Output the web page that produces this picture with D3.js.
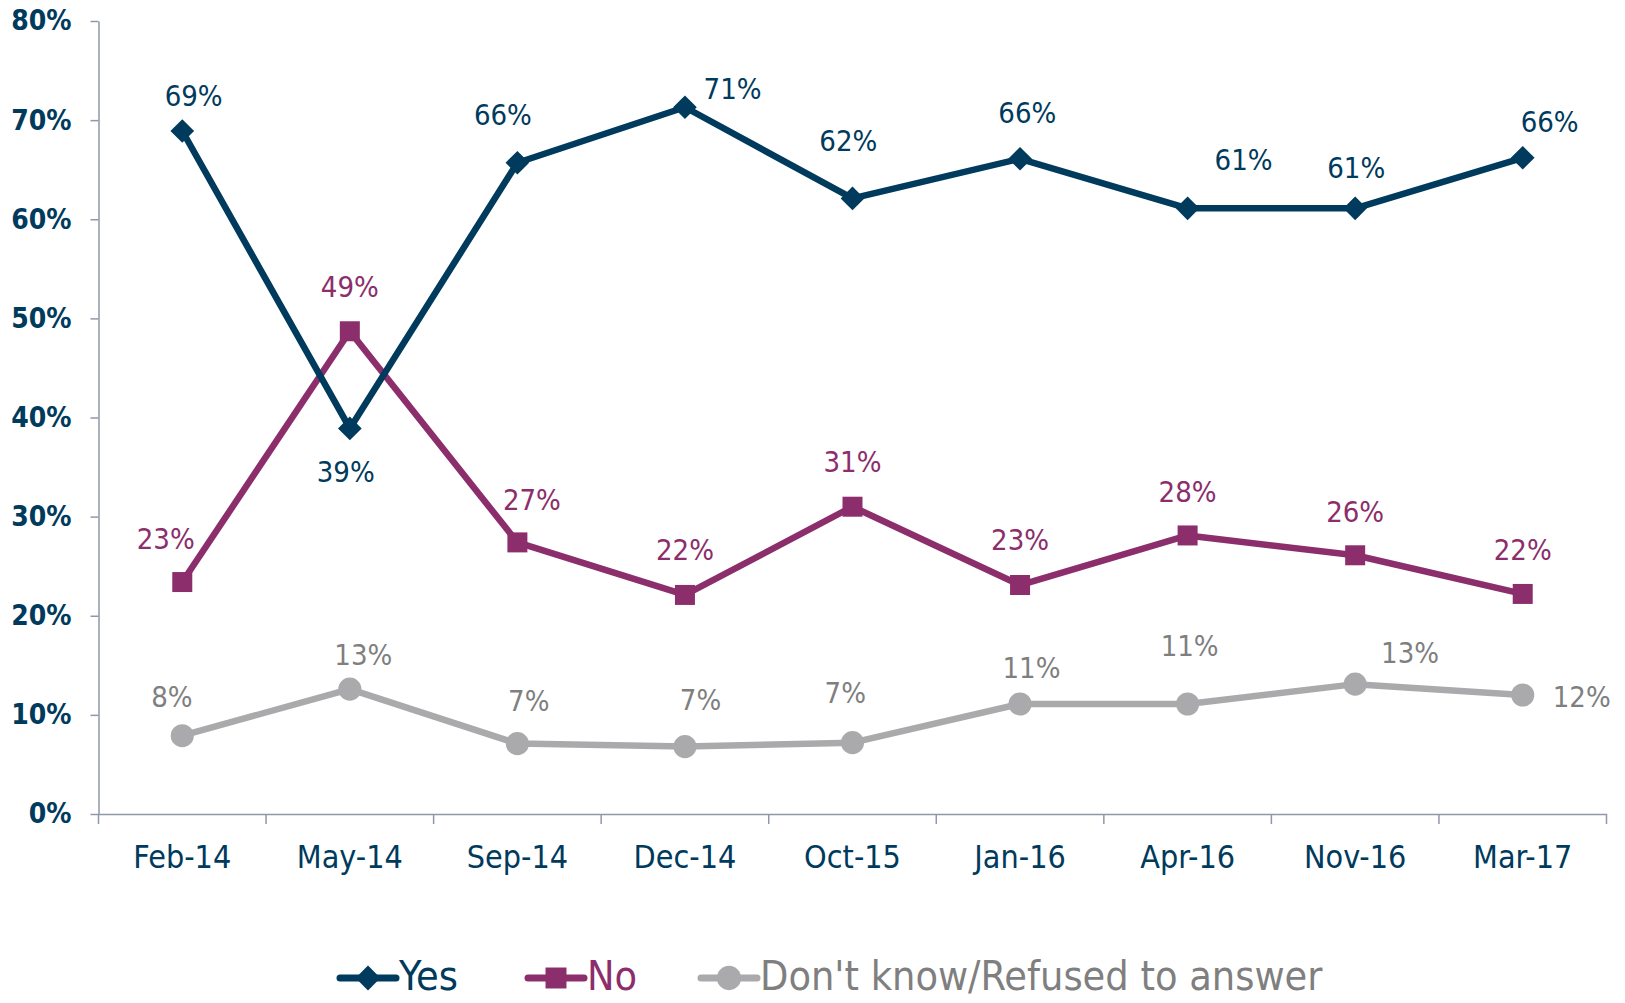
<!DOCTYPE html>
<html>
<head>
<meta charset="utf-8">
<script src="https://cdn.jsdelivr.net/npm/d3@7"></script>
<style>
  html, body { margin: 0; padding: 0; background: #fff; }
  svg { display: block; }
  .y-axis text { font-family: "DejaVu Sans Condensed", "DejaVu Sans", sans-serif; font-weight: bold; font-size: 28px; fill: #003a5c; }
  .x-axis text { font-family: "Liberation Sans Narrow", "DejaVu Sans Condensed", sans-serif; font-size: 32px; fill: #003a5c; }
  .axis path, .axis line { stroke: #8e98a8; stroke-width: 1.5px; }
  .lbl { font-family: "DejaVu Sans Condensed", "DejaVu Sans", sans-serif; font-size: 29px; }
  .legend text { font-family: "DejaVu Sans Condensed", "DejaVu Sans", sans-serif; font-size: 41px; }
</style>
</head>
<body>
<svg width="1625" height="1003"></svg>
<script>
// data
const categories = ['Feb-14', 'May-14', 'Sep-14', 'Dec-14', 'Oct-15', 'Jan-16', 'Apr-16', 'Nov-16', 'Mar-17'];
const yesValues = [68.9, 38.9, 65.7, 71.3, 62.1, 66.1, 61.1, 61.1, 66.2];
const noValues = [23.4, 48.7, 27.4, 22.1, 31.0, 23.1, 28.1, 26.1, 22.2];
const dkValues = [7.9, 12.6, 7.1, 6.8, 7.2, 11.1, 11.1, 13.1, 12.0];
const yTicks = [0, 10, 20, 30, 40, 50, 60, 70, 80];

// label nudges (px) so the data labels sit where the original put them
const yesNudge = [[11, -34], [-4, 42], [-14, -46], [46, -18], [-4, -55], [7, -44], [54, -47], [1, -39], [26, -35]];
const noNudge = [[-16, -42], [0, -43], [14, -41], [0, -43], [0, -43], [0, -43], [0, -42], [0, -42], [0, -42]];
const dkNudge = [[-10, -37], [13, -33], [11, -41], [15, -45], [-7, -48], [11, -35], [2, -56], [53, -30], [57, 2]];

const series = [
  { name: 'Yes', values: yesValues, nudge: yesNudge, color: '#003a5c', text: '#003a5c', marker: 'diamond' },
  { name: 'No', values: noValues, nudge: noNudge, color: '#8b2e6b', text: '#8b2e6b', marker: 'square' },
  { name: "Don't know/Refused to answer", values: dkValues, nudge: dkNudge, color: '#aaaaac', text: '#7f7f7f', marker: 'circle' }
];

const margin = { top: 21, left: 98.5, right: 18.5, bottom: 189 };
const width = 1625 - margin.left - margin.right,
  height = 1003 - margin.top - margin.bottom;

const svg = d3.select('svg');
const g = svg.append('g').attr('transform', `translate(${margin.left},${margin.top})`);

const x = d3.scaleBand().domain(categories).range([0, width]);
const y = d3.scaleLinear().domain([0, 80]).range([height, 0]);
const cx = d => x(d) + x.bandwidth() / 2;

// y axis
g.append('g')
  .attr('class', 'axis y-axis')
  .call(d3.axisLeft(y).tickValues(yTicks).tickFormat(d => d + '%').tickSize(8).tickSizeOuter(0).tickPadding(19));

// x axis, ticks between categories
const xa = g.append('g')
  .attr('class', 'axis x-axis')
  .attr('transform', `translate(0,${height})`)
  .call(d3.axisBottom(x).tickSize(0).tickSizeOuter(0).tickPadding(31));
xa.selectAll('.tick text').attr('dy', '0.71em');
xa.selectAll('.sep')
  .data(d3.range(categories.length + 1))
  .enter().append('line')
  .attr('x1', i => i * x.step()).attr('x2', i => i * x.step())
  .attr('y1', 0).attr('y2', 10)
  .attr('stroke', '#8e98a8').attr('stroke-width', 1.5);

const line = d3.line().x((d, i) => cx(categories[i])).y(d => y(d));

function drawMarker(sel, s, size) {
  const sym = s.marker === 'diamond'
    ? d3.symbol().type(d3.symbolSquare).size(size * 0.7)
    : s.marker === 'square' ? d3.symbol().type(d3.symbolSquare).size(size)
    : d3.symbol().type(d3.symbolCircle).size(size * 1.05);
  sel.append('path')
    .attr('d', sym())
    .attr('fill', s.color)
    .attr('transform', function () {
      const t = d3.select(this.parentNode).attr('data-t') || '';
      return t + (s.marker === 'diamond' ? ' rotate(45)' : '');
    });
}

// draw grey first so the others sit on top
[series[2], series[1], series[0]].forEach(s => {
  g.append('path')
    .datum(s.values)
    .attr('fill', 'none')
    .attr('stroke', s.color)
    .attr('stroke-width', 6.5)
    .attr('stroke-linejoin', 'round')
    .attr('d', line);

  s.values.forEach((v, i) => {
    const mg = g.append('g').attr('data-t', `translate(${cx(categories[i])},${y(v)})`);
    drawMarker(mg, s, 400);
  });
});

// data labels
series.forEach(s => {
  g.selectAll(null)
    .data(s.values)
    .enter().append('text')
    .attr('class', 'lbl')
    .attr('x', (d, i) => cx(categories[i]) + s.nudge[i][0] * 1.036)
    .attr('y', (d, i) => y(d) + s.nudge[i][1] * 1.036)
    .attr('text-anchor', 'middle')
    .attr('dominant-baseline', 'central')
    .attr('fill', s.text)
    .text(d => Math.round(d) + '%');
});

// legend
const legend = svg.append('g').attr('class', 'legend');
const legendX = [340, 528, 701];
const legendY = 976;
series.forEach((s, i) => {
  const lg = legend.append('g').attr('data-t', `translate(${legendX[i] + 28},${legendY + 2})`);
  lg.append('line')
    .attr('x1', legendX[i]).attr('x2', legendX[i] + 56)
    .attr('y1', legendY + 2).attr('y2', legendY + 2)
    .attr('stroke', s.color).attr('stroke-width', 7).attr('stroke-linecap', 'round');
  drawMarker(lg, s, 440);
  lg.append('text')
    .attr('x', legendX[i] + 59).attr('y', legendY)
    .attr('dominant-baseline', 'central')
    .attr('fill', s.text)
    .text(s.name);
});
</script>
</body>
</html>
